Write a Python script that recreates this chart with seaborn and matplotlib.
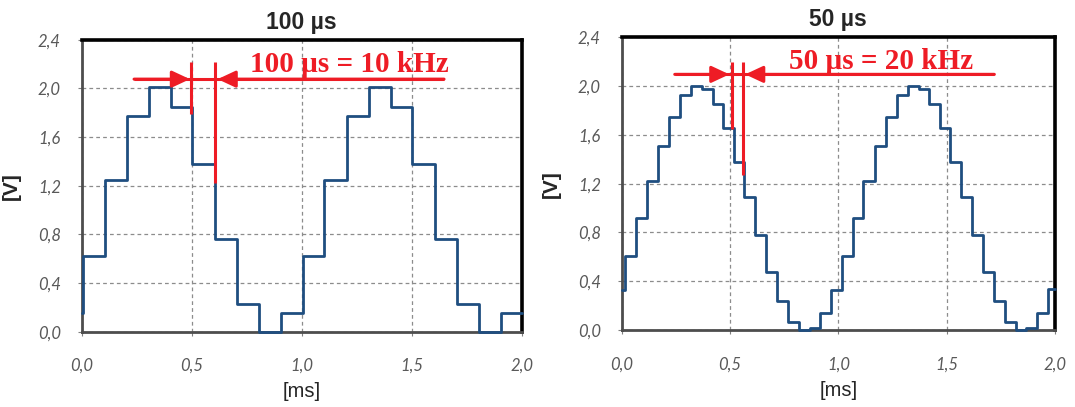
import numpy as np
import pandas as pd
import seaborn as sns
import matplotlib.pyplot as plt

# step edges [ms] and DAC output levels [V], 100 us steps
t_100 = [0.0, 0.005, 0.104, 0.205, 0.306, 0.404, 0.502, 0.606, 0.705, 0.806, 0.906,
         1.004, 1.103, 1.205, 1.305, 1.404, 1.500, 1.605, 1.706, 1.805, 1.905, 2.0]
v_100 = [0.15, 0.62, 1.25, 1.77, 2.01, 1.85, 1.38, 0.76, 0.23, 0.0, 0.15,
         0.62, 1.25, 1.77, 2.01, 1.85, 1.38, 0.76, 0.23, 0.0, 0.15, 0.15]

# 50 us steps
t_50 = [0.0, 0.016, 0.066, 0.116, 0.167, 0.220, 0.271, 0.321, 0.371, 0.420, 0.467,
        0.517, 0.566, 0.616, 0.666, 0.717, 0.768, 0.818, 0.867, 0.917, 0.968,
        1.017, 1.066, 1.116, 1.167, 1.220, 1.271, 1.321, 1.371, 1.420, 1.467,
        1.517, 1.566, 1.616, 1.666, 1.717, 1.768, 1.818, 1.867, 1.917, 1.968, 2.0]
v_50 = [0.33, 0.61, 0.92, 1.22, 1.51, 1.75, 1.93, 2.00, 1.98, 1.85,
        1.66, 1.38, 1.09, 0.78, 0.48, 0.24, 0.07, 0.0, 0.02, 0.14,
        0.33, 0.61, 0.92, 1.22, 1.51, 1.75, 1.93, 2.00, 1.98, 1.85,
        1.66, 1.38, 1.09, 0.78, 0.48, 0.24, 0.07, 0.0, 0.02, 0.14, 0.34, 0.34]

titles = ["100 \u00b5s", "50 \u00b5s"]
notes = ["100 \u00b5s = 10 kHz", "50 \u00b5s = 20 kHz"]
xticks = [0.0, 0.5, 1.0, 1.5, 2.0]
yticks = [0.0, 0.4, 0.8, 1.2, 1.6, 2.0, 2.4]

sns.set_style("white")
plt.rcParams["font.family"] = ["Liberation Sans", "DejaVu Sans"]

fig = plt.figure(figsize=(10.75, 4.07), dpi=100)
ax1 = fig.add_axes([0.076, 0.185, 0.4093, 0.7174])
ax2 = fig.add_axes([0.5783, 0.189, 0.4031, 0.7194])

blue = "#1f4e80"
red = "#ee1c25"

sns.lineplot(x=t_100, y=v_100, ax=ax1, drawstyle="steps-post", color=blue, lw=2.0,
             sort=False, zorder=4, clip_on=False)
sns.lineplot(x=t_50, y=v_50, ax=ax2, drawstyle="steps-post", color=blue, lw=2.0,
             sort=False, zorder=4, clip_on=False)

# annotation geometry in data units
ann = [
    dict(a0=0.238, a1=0.492, ay=2.076, m1=(0.497, 1.786, 2.213), m2=(0.606, 1.224, 2.213),
         b1=0.618, b0=1.647, tx=0.765),
    dict(a0=0.245, a1=0.497, ay=2.096, m1=(0.507, 1.645, 2.194), m2=(0.561, 1.27, 2.194),
         b1=0.570, b0=1.72, tx=0.772),
]

for ax, title, note, a in zip([ax1, ax2], titles, notes, ann):
    ax.set_xlim(0, 2.0)
    ax.set_ylim(0, 2.4)
    ax.set_xticks(xticks)
    ax.set_yticks(yticks)
    ax.set_xticklabels([f"{v:.1f}".replace(".", ",") for v in xticks])
    ax.set_yticklabels([f"{v:.1f}".replace(".", ",") for v in yticks])
    for lab in ax.get_xticklabels() + ax.get_yticklabels():
        lab.set_fontfamily("Lato")
        lab.set_fontstyle("italic")
        lab.set_color("#595959")
        lab.set_fontsize(12)
    ax.tick_params(axis="x", direction="out", length=3, width=0.8, color="#7f7f7f", pad=16, bottom=True)
    ax.tick_params(axis="y", direction="out", length=3, width=0.8, color="#7f7f7f", pad=12, left=True)
    ax.grid(True, ls=(0, (3, 2.5)), color="#8c8c8c", lw=0.9)
    ax.set_axisbelow(True)
    for s in ["top", "right"]:
        ax.spines[s].set_color("black")
        ax.spines[s].set_linewidth(2.6)
    for s in ["left", "bottom"]:
        ax.spines[s].set_color("#4d4d4d")
        ax.spines[s].set_linewidth(2.0)
    ax.set_title(title, fontsize=16.5, fontweight="bold", pad=8)
    ax.set_xlabel("[ms]", fontsize=14.5, labelpad=6)
    ax.set_ylabel("[V]", fontsize=15, fontweight="bold", labelpad=12)

    # red measurement marks
    ax.plot([a["a0"], a["b0"]], [a["ay"], a["ay"]], color=red, lw=2.2, solid_capstyle="butt", zorder=5)
    for x, y0, y1 in [a["m1"], a["m2"]]:
        ax.plot([x, x], [y0, y1], color=red, lw=2.2, solid_capstyle="butt", zorder=5)
    ap = dict(arrowstyle="-|>,head_length=0.6,head_width=0.28", color=red, lw=2.2,
              mutation_scale=18, shrinkA=0, shrinkB=0)
    ax.annotate("", xy=(a["a1"], a["ay"]), xytext=(a["a0"], a["ay"]), arrowprops=ap, zorder=5)
    ax.annotate("", xy=(a["b1"], a["ay"]), xytext=(a["b0"], a["ay"]), arrowprops=ap, zorder=5)
    ax.text(a["tx"], 2.137, note, color=red, fontsize=21, fontweight="bold",
            family=["Liberation Serif", "DejaVu Serif"], va="baseline", ha="left", zorder=5)

fig.savefig("out.png", dpi=100)
